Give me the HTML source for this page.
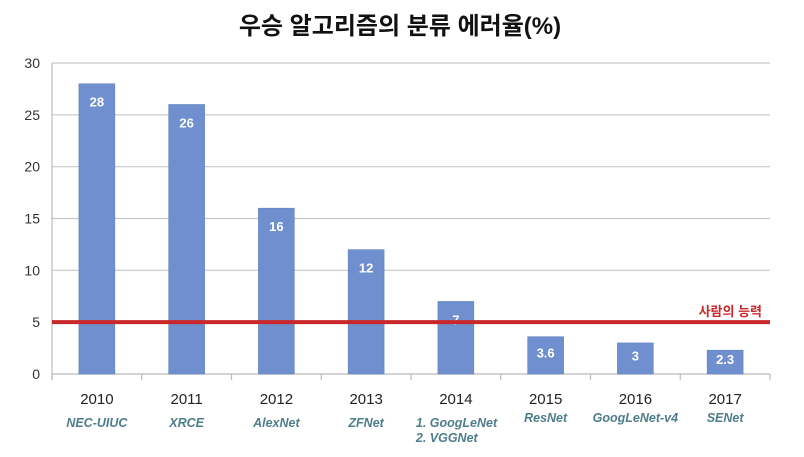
<!DOCTYPE html>
<html><head><meta charset="utf-8"><style>
body{margin:0;background:#fff;}
svg text{font-family:"Liberation Sans","Noto Sans CJK KR",sans-serif;}
</style></head><body>
<svg id="c" width="804" height="452" xmlns="http://www.w3.org/2000/svg">
<text x="400" y="34" text-anchor="middle" font-size="24" font-weight="bold" fill="#111">우승 알고리즘의 분류 에러율(%)</text>
<g id="grid"></g><g id="bars"></g><g id="labels"></g>
</svg>
<script>
const years=["2010","2011","2012","2013","2014","2015","2016","2017"];
const models=[["NEC-UIUC"],["XRCE"],["AlexNet"],["ZFNet"],["1. GoogLeNet","2. VGGNet"],["ResNet"],["GoogLeNet-v4"],["SENet"]];
const errors=[28,26,16,12,7,3.6,3,2.3];
const valueLabels=["28","26","16","12","7","3.6","3","2.3"];
const yTicks=[0,5,10,15,20,25,30];
const humanLevel=5;
const NS="http://www.w3.org/2000/svg";
const x0=52,x1=770,y0=374,yTop=63,yMax=30;
const bw=(x1-x0)/years.length;
const ys=v=>y0-(v/yMax)*(y0-yTop);
const xc=i=>x0+bw*(i+0.5);
function mk(t,a,p){const e=document.createElementNS(NS,t);for(const k in a)e.setAttribute(k,a[k]);p.appendChild(e);return e;}
const g=document.getElementById('grid'),b=document.getElementById('bars'),l=document.getElementById('labels');
yTicks.forEach(v=>{
 const ln=mk('line',{x1:x0,x2:x1,y1:ys(v),y2:ys(v),stroke:v===0?'#bbb':'#c8c8c8','stroke-width':1.2},g);
 
 
 const t=mk('text',{x:40,y:ys(v)+5,'text-anchor':'end','font-size':14,fill:'#333'},g);t.textContent=v;
 
 
});
const ax=mk('line',{x1:x0,x2:x0,y1:yTop,y2:y0+6,stroke:'#bbb','stroke-width':1.2},g);


for(let i=0;i<=years.length;i++){const tk=mk('line',{x1:x0+bw*i,x2:x0+bw*i,y1:y0,y2:y0+6,stroke:'#bbb','stroke-width':1.2},g);
 
 }
errors.forEach((v,i)=>{
 const top=ys(v),h=y0-top;
 const r=mk('rect',{x:xc(i)-18,y:top,width:36,height:h,fill:'#6f8fce',stroke:'#5b7bbd','stroke-width':0.5},b);
 
 
 const cy=Math.min(top+18,top+h/2-3);
 const t=mk('text',{x:xc(i),y:cy+5,'text-anchor':'middle','font-size':13,'font-weight':'bold',fill:'#fff'},l);t.textContent=valueLabels[i];
 
 
 const yt=mk('text',{x:xc(i),y:404,'text-anchor':'middle','font-size':15,fill:'#222'},l);yt.textContent=years[i];
 
 
 models[i].forEach((m,j)=>{
  const multi=models[i].length>1;
  const mt=mk('text',{x:multi?xc(i)-40:xc(i),y:(multi?427:(i>=5?422:427))+j*15,'text-anchor':multi?'start':'middle','font-size':12.5,'font-weight':'bold','font-style':'italic',fill:'#4e7e8c'},l);
  mt.textContent=m;
  
  
 });
});
const hl=mk('line',{x1:x0,x2:x1,y1:ys(humanLevel),y2:ys(humanLevel),stroke:'#c8282a','stroke-width':4},l);


const ht=mk('text',{x:762,y:ys(humanLevel)-6,'text-anchor':'end','font-size':13,'font-weight':'bold',fill:'#c8282a'},l);ht.textContent='사람의 능력';


</script>
</body></html>
